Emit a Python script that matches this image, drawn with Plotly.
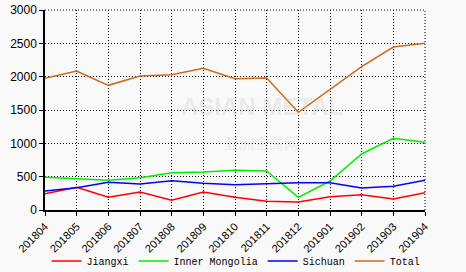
import plotly.graph_objects as go

months = ["201804", "201805", "201806", "201807", "201808", "201809", "201810",
          "201811", "201812", "201901", "201902", "201903", "201904"]
jiangxi = [245, 340, 190, 270, 145, 270, 190, 130, 120, 200, 230, 165, 260]
inner_mongolia = [490, 470, 445, 485, 560, 570, 595, 585, 190, 435, 840, 1075, 1015]
sichuan = [285, 335, 415, 390, 440, 400, 380, 400, 410, 410, 330, 355, 445]
total = [1975, 2085, 1870, 2010, 2030, 2125, 1970, 1980, 1465, 1810, 2150, 2445, 2500]

series = [("Jiangxi", jiangxi, "#ff0000"),
          ("Inner Mongolia", inner_mongolia, "#00ee00"),
          ("Sichuan", sichuan, "#0000ff"),
          ("Total", total, "#cc6a1e")]

bg = "#f9f9f9"
fig = go.Figure()
for name, vals, col in series:
    fig.add_trace(go.Scatter(x=months, y=vals, mode="lines", name=name,
                             line=dict(color=col, width=1.5)))

grid = dict(showgrid=True, gridcolor="#000", griddash="1px,2px", gridwidth=1,
            showline=True, linecolor="#000", linewidth=1.5,
            ticks="outside", ticklen=4, tickcolor="#000", zeroline=False)

fig.update_layout(
    width=466, height=272,
    margin=dict(l=45, r=41, t=10, b=62, autoexpand=False),
    paper_bgcolor=bg, plot_bgcolor=bg,
    font=dict(family="Liberation Sans, Arial", size=11, color="#000"),
    showlegend=True,
    legend=dict(orientation="h", xref="container", yref="container",
                x=0.1, xanchor="left", y=0.04, yanchor="middle",
                font=dict(family="Liberation Mono, DejaVu Sans Mono", size=10),
                itemwidth=30, bgcolor="rgba(0,0,0,0)"),
)
fig.update_xaxes(type="category", range=[0, 12], tickangle=-45,
                 tickfont=dict(size=11), **grid)
fig.update_yaxes(range=[0, 3000], dtick=500, tickfont=dict(size=12), **grid)
# top and right dotted border
fig.add_shape(type="line", xref="paper", yref="paper", x0=0, x1=1, y0=1, y1=1,
              line=dict(color="#000", width=1, dash="1px,2px"))
fig.add_shape(type="line", xref="paper", yref="paper", x0=1, x1=1, y0=0, y1=1,
              line=dict(color="#000", width=1, dash="1px,2px"))
# faint watermark
fig.add_annotation(xref="paper", yref="paper", x=0.57, y=0.44, yanchor="bottom",
                   text="<b>ASIAN METAL</b>", showarrow=False,
                   font=dict(size=24, color="rgba(190,190,190,0.25)"))
fig.add_annotation(xref="paper", yref="paper", x=0.57, y=0.40, yanchor="top",
                   text="亚洲金属网", showarrow=False,
                   font=dict(family="Noto Sans CJK SC", size=15,
                             color="rgba(190,190,190,0.25)"))

fig.write_html("out.html")
